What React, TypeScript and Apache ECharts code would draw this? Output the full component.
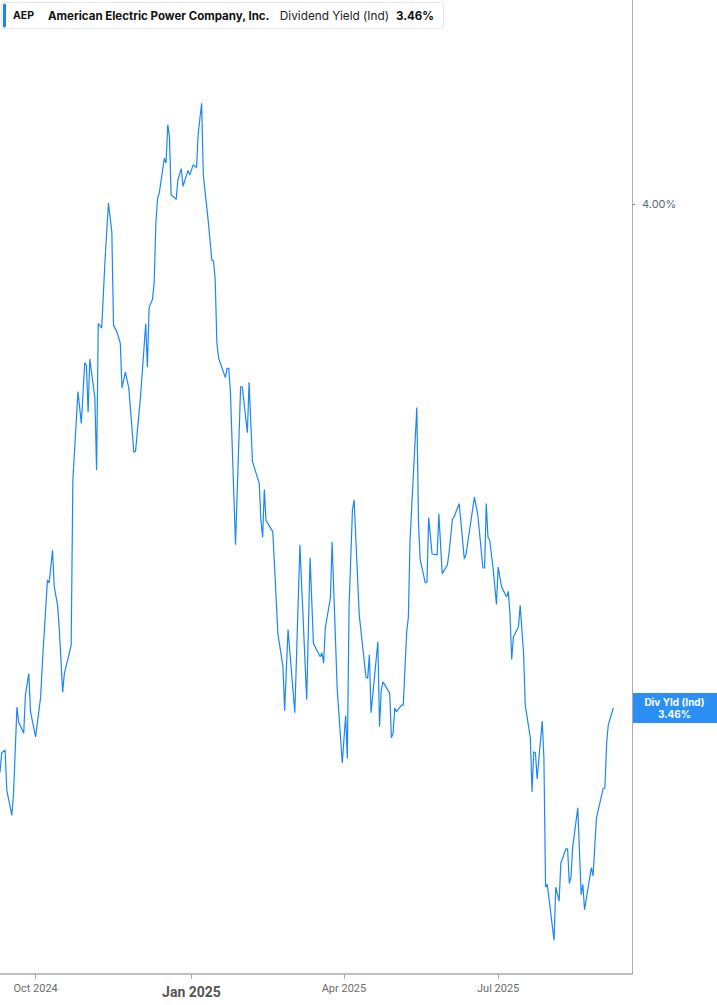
import { useEffect, useRef } from "react";
import * as echarts from "echarts";

// first calendar day shown on the axis (left edge of the plot)
const START_Y = 2024;
const START_M = 8; // September (0-based)
const START_D = 10;
const AXIS_DAYS = 373;

// days after START for each reading
const dayOffsets = [
  0, 1, 3, 4, 7, 8, 10, 11, 14, 15, 17, 18, 21, 24, 25, 28, 29, 31, 32, 34,
  35, 37, 38, 42, 43, 46, 48, 50, 51, 52, 53, 56, 57, 58, 60, 62, 64, 66, 67, 69,
  71, 72, 74, 76, 79, 80, 83, 86, 87, 88, 90, 91, 92, 93, 94, 97, 98, 99, 100, 101,
  104, 105, 107, 108, 111, 112, 114, 116, 117, 119, 120, 123, 125, 126, 127, 128, 129, 133, 134, 135,
  136, 139, 142, 143, 146, 147, 149, 153, 154, 155, 156, 157, 161, 164, 167, 168, 170, 174, 177, 181,
  183, 185, 189, 190, 191, 192, 195, 196, 199, 202, 204, 205, 206, 208, 209, 212, 216, 217, 218, 219,
  223, 224, 225, 226, 230, 231, 232, 233, 234, 237, 238, 240, 241, 242, 246, 247, 248, 251, 252, 253,
  255, 258, 259, 261, 264, 265, 267, 268, 271, 272, 274, 275, 280, 282, 285, 286, 287, 288, 289, 291,
  293, 294, 296, 299, 300, 301, 302, 303, 306, 307, 309, 310, 313, 314, 315, 316, 317, 320, 321, 322,
  323, 327, 328, 330, 331, 334, 335, 336, 337, 338, 341, 343, 344, 345, 349, 350, 352, 356, 357, 358,
  359, 362,
];

// dividend yield (%)
const yieldPct = [
  3.391, 3.412, 3.415, 3.372, 3.345, 3.369, 3.461, 3.445, 3.433, 3.474, 3.497, 3.456, 3.429, 3.472, 3.508, 3.597, 3.594, 3.629, 3.59, 3.57,
  3.544, 3.477, 3.497, 3.527, 3.704, 3.799, 3.765, 3.83, 3.827, 3.777, 3.834, 3.792, 3.715, 3.872, 3.867, 3.94, 4.001, 3.97, 3.87, 3.863,
  3.851, 3.803, 3.82, 3.803, 3.734, 3.735, 3.795, 3.872, 3.825, 3.889, 3.898, 3.916, 3.98, 4.006, 4.012, 4.049, 4.044, 4.085, 4.072, 4.01,
  4.005, 4.026, 4.038, 4.019, 4.036, 4.031, 4.042, 4.039, 4.076, 4.108, 4.031, 3.98, 3.94, 3.939, 3.919, 3.851, 3.835, 3.814, 3.824, 3.824,
  3.798, 3.635, 3.804, 3.804, 3.755, 3.809, 3.724, 3.701, 3.661, 3.643, 3.694, 3.661, 3.649, 3.54, 3.504, 3.457, 3.544, 3.455, 3.635, 3.469,
  3.621, 3.529, 3.515, 3.519, 3.508, 3.546, 3.578, 3.638, 3.481, 3.401, 3.452, 3.406, 3.568, 3.672, 3.683, 3.56, 3.493, 3.492, 3.517, 3.455,
  3.531, 3.44, 3.479, 3.488, 3.476, 3.428, 3.433, 3.46, 3.456, 3.463, 3.463, 3.541, 3.557, 3.64, 3.782, 3.658, 3.619, 3.594, 3.595, 3.664,
  3.625, 3.624, 3.668, 3.604, 3.613, 3.626, 3.662, 3.665, 3.679, 3.66, 3.62, 3.624, 3.686, 3.667, 3.61, 3.61, 3.679, 3.643, 3.64, 3.61,
  3.571, 3.611, 3.59, 3.579, 3.585, 3.56, 3.512, 3.536, 3.547, 3.57, 3.519, 3.463, 3.428, 3.37, 3.413, 3.412, 3.384, 3.446, 3.407, 3.268,
  3.271, 3.211, 3.268, 3.253, 3.294, 3.309, 3.309, 3.272, 3.279, 3.311, 3.353, 3.26, 3.271, 3.244, 3.289, 3.28, 3.342, 3.374, 3.374, 3.422,
  3.442, 3.46,
];

const tickDates = ["2024-10-01", "2025-01-01", "2025-04-01", "2025-07-01"];
const yTicks = [4.0];
const MONTHS = ["Jan", "Feb", "Mar", "Apr", "May", "Jun", "Jul", "Aug", "Sep", "Oct", "Nov", "Dec"];

const ticker = "AEP";
const companyName = "American Electric Power Company, Inc.";
const metricName = "Dividend Yield (Ind)";
const metricShort = "Div Yld (Ind)";

const Y_MIN = 3.175;
const Y_MAX = 4.2186;

const BLUE = "#1b87f6";
const FONT = "Inter, Roboto, sans-serif";
const AXIS_FONT = "Roboto, 'Noto Sans', sans-serif";
const DAY_MS = 86400000;

function dayDate(offset: number): Date {
  return new Date(START_Y, START_M, START_D + offset);
}

function toOffset(s: string): number {
  const [y, m, d] = s.split("-").map(Number);
  const ms = Date.UTC(y, m - 1, d) - Date.UTC(START_Y, START_M, START_D);
  return Math.round(ms / DAY_MS);
}

function pct(v: number): string {
  return `${v.toFixed(2)}%`;
}

export default function App() {
  const ref = useRef<HTMLDivElement | null>(null);

  useEffect(() => {
    if (!ref.current) {
      return;
    }
    const chart = echarts.init(ref.current, undefined, { renderer: "svg" });
    const last = yieldPct[yieldPct.length - 1];
    const xTicks = tickDates.map(toOffset);

    const head = { fontFamily: FONT, fontSize: 11.5, color: "#111111", lineHeight: 25 };

    chart.setOption({
      animation: false,
      textStyle: { fontFamily: FONT },
      title: {
        left: 1,
        top: 2,
        text: `{bar|}{tk|${ticker}}{nm|${companyName}}{lb|${metricName}}{val|${pct(last)}}`,
        padding: [1, 10, 1, 2],
        backgroundColor: "#ffffff",
        borderColor: "#e3e6ea",
        borderWidth: 1,
        borderRadius: 3,
        textStyle: {
          ...head,
          rich: {
            bar: { width: 3, height: 24, backgroundColor: BLUE, borderRadius: 1.5 },
            tk: { ...head, fontSize: 10.5, fontWeight: "bold", padding: [0, 14, 0, 7] },
            nm: { ...head, fontWeight: "bold", padding: [0, 10, 0, 0] },
            lb: { ...head, fontSize: 11.8, fontWeight: "normal", color: "#222222", padding: [0, 7, 0, 0] },
            val: { ...head, fontWeight: "bold" },
          },
        },
      },
      grid: { left: 0, right: 85, top: 0, bottom: 31, containLabel: false, outerBoundsMode: "none" },
      xAxis: {
        type: "value",
        min: 0,
        max: AXIS_DAYS,
        splitLine: { show: false },
        axisLine: { show: true, onZero: false, lineStyle: { color: "#ababab", width: 1.5 } },
        axisTick: { show: true, customValues: xTicks, length: 5, lineStyle: { color: "#ababab", width: 1 } },
        axisLabel: {
          customValues: xTicks,
          margin: 9,
          fontSize: 11,
          color: "#6b6b6b",
          fontFamily: AXIS_FONT,
          formatter: (v: number) => {
            const d = dayDate(v);
            const label = `${MONTHS[d.getMonth()]} ${d.getFullYear()}`;
            return d.getMonth() === 0 ? `{yr|${label}}` : label;
          },
          rich: {
            yr: { fontFamily: AXIS_FONT, fontWeight: "bold", fontSize: 14, color: "#555555", padding: [2, 0, 0, 0] },
          },
        },
      },
      yAxis: {
        type: "value",
        position: "right",
        min: Y_MIN,
        max: Y_MAX,
        splitLine: { show: false },
        axisLine: { show: true, onZero: false, lineStyle: { color: "#ababab", width: 1 } },
        axisTick: { show: true, customValues: yTicks, length: 3, lineStyle: { color: "#8a8a8a" } },
        axisLabel: {
          customValues: yTicks,
          margin: 10,
          fontSize: 11,
          color: "#5d6877",
          fontFamily: FONT,
          formatter: (v: number) => pct(v),
        },
      },
      series: [
        {
          type: "line",
          data: dayOffsets.map((d, i) => [d, yieldPct[i]]),
          showSymbol: false,
          silent: true,
          lineStyle: { width: 1.2, color: BLUE },
        },
      ],
    });

    // current-value tag sitting on the right axis, placed through the axis scales
    const axisX = chart.convertToPixel({ xAxisIndex: 0 }, AXIS_DAYS) as number;
    const lastY = chart.convertToPixel({ yAxisIndex: 0 }, last) as number;
    const tagW = chart.getWidth() - axisX;
    chart.setOption({
      graphic: [
        {
          type: "group",
          x: axisX,
          y: lastY,
          silent: true,
          children: [
            { type: "rect", shape: { x: 0, y: -15, width: tagW, height: 30 }, style: { fill: "#2b8ff6" } },
            {
              type: "text",
              x: tagW / 2,
              y: 0,
              style: {
                text: `${metricShort}\n${pct(last)}`,
                fill: "#ffffff",
                fontFamily: FONT,
                fontSize: 10,
                fontWeight: "bold",
                lineHeight: 11.5,
                align: "center",
                verticalAlign: "middle",
              },
            },
          ],
        },
      ],
    });

    return () => {
      chart.dispose();
    };
  }, []);

  return (
    <div
      ref={ref}
      style={{ position: "absolute", left: 0, top: 0, width: 717, height: 1005, background: "#ffffff" }}
    />
  );
}
